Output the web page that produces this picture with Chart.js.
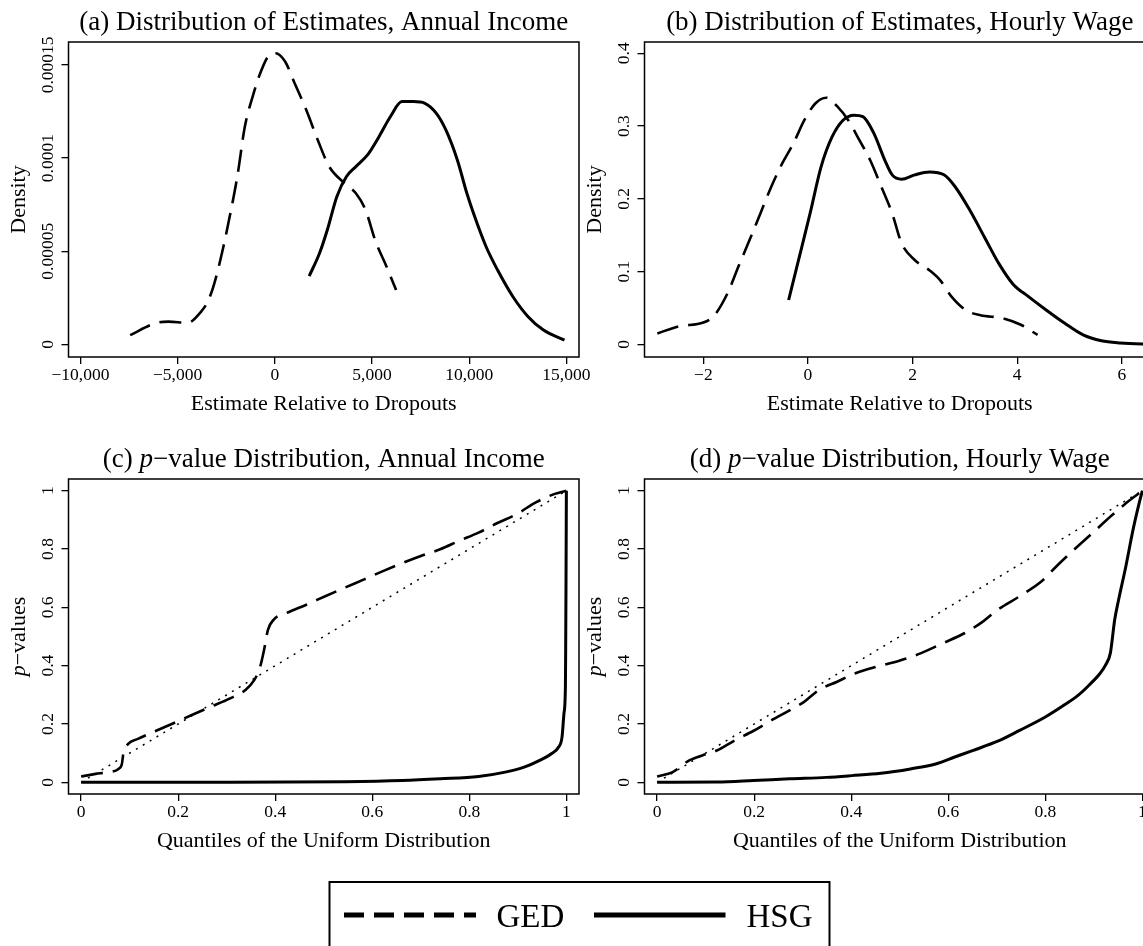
<!DOCTYPE html>
<html>
<head>
<meta charset="utf-8">
<script src="https://cdn.jsdelivr.net/npm/chart.js@4/dist/chart.umd.min.js"></script>
<style>
  body { margin: 0; background: #fff; }
  #wrap { position: relative; width: 1143px; height: 946px; overflow: hidden; background: #fff; }
  canvas { position: absolute; }
</style>
</head>
<body>
<div id="wrap">
  <canvas id="pa" width="612" height="420" style="left:0;top:0"></canvas>
  <canvas id="pb" width="612" height="420" style="left:576px;top:0"></canvas>
  <canvas id="pc" width="612" height="420" style="left:0;top:437px"></canvas>
  <canvas id="pd" width="612" height="420" style="left:576px;top:437px"></canvas>
  <canvas id="leg" width="1143" height="86" style="left:0;top:860px"></canvas>
</div>
<script>
// (a) density of estimates, annual income
var gedIncomeX = [-7440, -6070, -5470, -4490, -3800, -3410, -3110, -2720, -2320, -1930, -1540, -1140, -750, -350, 40, 530, 1020, 1620, 2210, 2800, 3580, 4170, 4670, 5160, 5750, 6240];
var gedIncomeY = [0.0000050, 0.0000116, 0.0000122, 0.0000116, 0.0000175, 0.0000238, 0.0000328, 0.0000489, 0.0000686, 0.0000900, 0.0001169, 0.0001330, 0.0001455, 0.0001545, 0.0001563, 0.0001518, 0.0001402, 0.0001258, 0.0001097, 0.0000954, 0.0000865, 0.0000811, 0.0000721, 0.0000560, 0.0000417, 0.0000292];
var hsgIncomeX = [1770, 2300, 2700, 3190, 3680, 4170, 4770, 5360, 5950, 6540, 7130, 7720, 8310, 8800, 9390, 9880, 10280, 10870, 11460, 12250, 13030, 13820, 14900];
var hsgIncomeY = [0.0000367, 0.0000489, 0.0000614, 0.0000793, 0.0000900, 0.0000954, 0.0001017, 0.0001115, 0.0001223, 0.0001303, 0.0001303, 0.0001294, 0.0001240, 0.0001151, 0.0000990, 0.0000811, 0.0000686, 0.0000524, 0.0000399, 0.0000256, 0.0000149, 0.0000077, 0.0000023];

// (b) density of estimates, hourly wage
var gedWageX = [-2.88, -2.46, -2.0, -1.79, -1.54, -1.33, -1.12, -0.91, -0.70, -0.49, -0.28, -0.07, 0.14, 0.35, 0.56, 0.77, 0.98, 1.19, 1.40, 1.61, 1.79, 2.04, 2.32, 2.53, 2.74, 3.02, 3.30, 3.72, 4.07, 4.39];
var gedWageY = [0.015, 0.025, 0.030, 0.040, 0.070, 0.107, 0.143, 0.180, 0.217, 0.249, 0.276, 0.308, 0.331, 0.339, 0.327, 0.308, 0.281, 0.253, 0.217, 0.180, 0.139, 0.116, 0.102, 0.088, 0.066, 0.047, 0.040, 0.036, 0.027, 0.013];
var hsgWageX = [-0.37, -0.18, 0.04, 0.25, 0.46, 0.67, 0.88, 1.05, 1.26, 1.47, 1.61, 1.79, 2.04, 2.32, 2.60, 2.81, 3.09, 3.37, 3.65, 3.93, 4.21, 4.56, 4.91, 5.26, 5.61, 5.97, 6.44, 6.63];
var hsgWageY = [0.061, 0.116, 0.180, 0.244, 0.285, 0.308, 0.315, 0.313, 0.290, 0.253, 0.233, 0.227, 0.233, 0.237, 0.233, 0.217, 0.185, 0.148, 0.111, 0.082, 0.066, 0.047, 0.029, 0.013, 0.005, 0.002, 0.0005, 0.0003];

// (c) p-values vs uniform quantiles, annual income
var uniformQ = [0, 1];
var uniformP = [0, 1];
var gedIncomeQ = [0, 0.03, 0.054, 0.077, 0.084, 0.087, 0.097, 0.117, 0.148, 0.188, 0.227, 0.267, 0.306, 0.338, 0.357, 0.369, 0.377, 0.385, 0.397, 0.424, 0.464, 0.503, 0.543, 0.582, 0.622, 0.661, 0.700, 0.740, 0.779, 0.819, 0.858, 0.898, 0.937, 0.976, 1.0];
var gedIncomeP = [0.020, 0.029, 0.035, 0.046, 0.063, 0.098, 0.132, 0.149, 0.172, 0.201, 0.230, 0.259, 0.287, 0.316, 0.351, 0.397, 0.454, 0.523, 0.558, 0.581, 0.609, 0.638, 0.667, 0.695, 0.724, 0.751, 0.776, 0.799, 0.828, 0.856, 0.889, 0.920, 0.960, 0.989, 1.0];
var hsgIncomeQ = [0, 0.306, 0.543, 0.661, 0.740, 0.819, 0.874, 0.913, 0.945, 0.969, 0.984, 0.991, 0.995, 0.998, 0.9985, 0.9992, 1.0];
var hsgIncomeP = [0, 0, 0.002, 0.006, 0.012, 0.020, 0.035, 0.052, 0.075, 0.098, 0.121, 0.155, 0.236, 0.328, 0.443, 0.672, 1.0];

// (d) p-values vs uniform quantiles, hourly wage
var gedWageQ = [0, 0.032, 0.047, 0.063, 0.093, 0.123, 0.160, 0.198, 0.236, 0.273, 0.303, 0.333, 0.371, 0.409, 0.454, 0.499, 0.544, 0.589, 0.634, 0.672, 0.702, 0.747, 0.793, 0.823, 0.860, 0.898, 0.936, 0.973, 1.0];
var gedWageP = [0.020, 0.035, 0.052, 0.072, 0.092, 0.109, 0.144, 0.176, 0.213, 0.247, 0.276, 0.316, 0.345, 0.374, 0.397, 0.417, 0.443, 0.477, 0.512, 0.552, 0.592, 0.638, 0.690, 0.741, 0.799, 0.856, 0.914, 0.966, 1.0];
var hsgWageQ = [0, 0.123, 0.198, 0.273, 0.349, 0.401, 0.461, 0.522, 0.574, 0.612, 0.650, 0.702, 0.747, 0.800, 0.838, 0.868, 0.890, 0.913, 0.924, 0.934, 0.943, 0.951, 0.966, 0.981, 0.992, 1.0];
var hsgWageP = [0, 0.001, 0.006, 0.012, 0.017, 0.023, 0.031, 0.046, 0.063, 0.086, 0.109, 0.141, 0.178, 0.224, 0.264, 0.299, 0.333, 0.374, 0.402, 0.443, 0.558, 0.626, 0.741, 0.868, 0.948, 1.0];

// ticks
var incomeTicks = [-10000, -5000, 0, 5000, 10000, 15000];
var incomeTickLabels = ["\u221210,000", "\u22125,000", "0", "5,000", "10,000", "15,000"];
var wageTicks = [-2, 0, 2, 4, 6];
var wageTickLabels = ["\u22122", "0", "2", "4", "6"];
var densIncomeTicks = [0, 0.00005, 0.0001, 0.00015];
var densIncomeLabels = ["0", "0.00005", "0.0001", "0.00015"];
var densWageTicks = [0, 0.1, 0.2, 0.3, 0.4];
var densWageLabels = ["0", "0.1", "0.2", "0.3", "0.4"];
var unitTicks = [0, 0.2, 0.4, 0.6, 0.8, 1];
var unitTickLabels = ["0", "0.2", "0.4", "0.6", "0.8", "1"];

var SERIF = '"Liberation Serif", "Times New Roman", serif';

function pts(xs, ys) {
  return xs.map(function (x, i) { return { x: x, y: ys[i] }; });
}

// texts with italic bits: [text, italic]
function drawParts(ctx, parts, cx, y, size) {
  var total = 0;
  parts.forEach(function (p) {
    ctx.font = (p[1] ? 'italic ' : '') + size + 'px ' + SERIF;
    total += ctx.measureText(p[0]).width;
  });
  var x = cx - total / 2;
  ctx.textAlign = 'left';
  ctx.textBaseline = 'alphabetic';
  parts.forEach(function (p) {
    ctx.font = (p[1] ? 'italic ' : '') + size + 'px ' + SERIF;
    ctx.fillText(p[0], x, y);
    x += ctx.measureText(p[0]).width;
  });
}

// R-like frame, rotated y labels and titles
var panelText = {};
var rFrame = {
  id: 'rFrame',
  afterDraw: function (chart) {
    var t = panelText[chart.canvas.id];
    var ctx = chart.ctx, a = chart.chartArea;
    ctx.save();
    ctx.strokeStyle = '#000';
    ctx.lineWidth = 1.5;
    ctx.strokeRect(a.left, a.top, a.right - a.left, a.bottom - a.top);
    ctx.fillStyle = '#000';

    var ys = chart.scales.y;
    ctx.font = '17.5px ' + SERIF;
    ctx.textAlign = 'center';
    ctx.textBaseline = 'alphabetic';
    ys.ticks.forEach(function (tk, i) {
      ctx.save();
      ctx.translate(a.left - 15.5, ys.getPixelForValue(tk.value));
      ctx.rotate(-Math.PI / 2);
      ctx.fillText(t.yLabels[i], 0, 0);
      ctx.restore();
    });

    drawParts(ctx, t.title, a.left + 255.25, 30, 27);
    drawParts(ctx, t.xTitle, (a.left + a.right) / 2, a.bottom + 53, 22);
    ctx.save();
    ctx.translate(a.left - 44, (a.top + a.bottom) / 2);
    ctx.rotate(-Math.PI / 2);
    drawParts(ctx, t.yTitle, 0, 0, 22);
    ctx.restore();
    ctx.restore();
  }
};

function makePanel(id, o) {
  panelText[id] = o.text;
  return new Chart(document.getElementById(id), {
    type: 'line',
    data: { datasets: o.datasets },
    options: {
      responsive: false,
      animation: false,
      devicePixelRatio: 1,
      layout: { padding: { top: 42, right: 33, left: 0, bottom: 0 } },
      plugins: { legend: { display: false }, tooltip: { enabled: false }, title: { display: false } },
      elements: { point: { radius: 0 }, line: { cubicInterpolationMode: 'monotone', fill: false } },
      scales: {
        x: {
          type: 'linear', min: o.xMin, max: o.xMax,
          afterBuildTicks: function (s) { s.ticks = o.xTicks.map(function (v) { return { value: v }; }); },
          afterFit: function (s) { s.height = 63; s.paddingLeft = 0; s.paddingRight = 0; },
          grid: { drawOnChartArea: false, drawTicks: true, tickLength: 7, color: '#000', lineWidth: 1.3 },
          border: { display: false },
          ticks: {
            color: '#000', padding: 1, maxRotation: 0, autoSkip: false,
            font: { family: SERIF, size: 17.5 },
            callback: function (v, i) { return o.xLabels[i]; }
          }
        },
        y: {
          type: 'linear', min: o.yMin, max: o.yMax,
          afterBuildTicks: function (s) { s.ticks = o.yTicks.map(function (v) { return { value: v }; }); },
          afterFit: function (s) { s.width = 68.5; s.paddingTop = 0; s.paddingBottom = 0; },
          grid: { drawOnChartArea: false, drawTicks: true, tickLength: 7, color: '#000', lineWidth: 1.3 },
          border: { display: false },
          ticks: { display: false }
        }
      }
    },
    plugins: [rFrame]
  });
}

function gedSet(data) {
  return { data: data, borderColor: '#000', borderWidth: 2.6, borderDash: [22, 10] };
}
function hsgSet(data) {
  return { data: data, borderColor: '#000', borderWidth: 3 };
}
function diagSet(data) {
  return { data: data, borderColor: '#000', borderWidth: 1.5, borderDash: [2, 6], cubicInterpolationMode: 'default', tension: 0 };
}

var pvTitle = [["p", true], ["\u2212values", false]];
var quantTitle = [["Quantiles of the Uniform Distribution", false]];

makePanel('pa', {
  datasets: [gedSet(pts(gedIncomeX, gedIncomeY)), hsgSet(pts(hsgIncomeX, hsgIncomeY))],
  xMin: -10612, xMax: 15648, xTicks: incomeTicks, xLabels: incomeTickLabels,
  yMin: -0.00000676, yMax: 0.0001623, yTicks: densIncomeTicks,
  text: {
    title: [["(a) Distribution of Estimates, Annual Income", false]],
    xTitle: [["Estimate Relative to Dropouts", false]],
    yTitle: [["Density", false]],
    yLabels: densIncomeLabels
  }
});

makePanel('pb', {
  datasets: [gedSet(pts(gedWageX, gedWageY)), hsgSet(pts(hsgWageX, hsgWageY))],
  xMin: -3.126, xMax: 6.635, xTicks: wageTicks, xLabels: wageTickLabels,
  yMin: -0.0173, yMax: 0.4155, yTicks: densWageTicks,
  text: {
    title: [["(b) Distribution of Estimates, Hourly Wage", false]],
    xTitle: [["Estimate Relative to Dropouts", false]],
    yTitle: [["Density", false]],
    yLabels: densWageLabels
  }
});

makePanel('pc', {
  datasets: [diagSet(pts(uniformQ, uniformP)), gedSet(pts(gedIncomeQ, gedIncomeP)), hsgSet(pts(hsgIncomeQ, hsgIncomeP))],
  xMin: -0.026, xMax: 1.026, xTicks: unitTicks, xLabels: unitTickLabels,
  yMin: -0.04, yMax: 1.04, yTicks: unitTicks,
  text: {
    title: [["(c) ", false], ["p", true], ["\u2212value Distribution, Annual Income", false]],
    xTitle: quantTitle, yTitle: pvTitle, yLabels: unitTickLabels
  }
});

makePanel('pd', {
  datasets: [diagSet(pts(uniformQ, uniformP)), gedSet(pts(gedWageQ, gedWageP)), hsgSet(pts(hsgWageQ, hsgWageP))],
  xMin: -0.026, xMax: 1.026, xTicks: unitTicks, xLabels: unitTickLabels,
  yMin: -0.04, yMax: 1.04, yTicks: unitTicks,
  text: {
    title: [["(d) ", false], ["p", true], ["\u2212value Distribution, Hourly Wage", false]],
    xTitle: quantTitle, yTitle: pvTitle, yLabels: unitTickLabels
  }
});

// legend box at the bottom
var lg = document.getElementById('leg').getContext('2d');
lg.strokeStyle = '#000';
lg.lineWidth = 2;
lg.strokeRect(329.5, 22, 500, 70);
lg.lineWidth = 5;
lg.lineCap = 'butt';
lg.setLineDash([20, 10]);
lg.beginPath(); lg.moveTo(344, 55); lg.lineTo(476, 55); lg.stroke();
lg.setLineDash([]);
lg.beginPath(); lg.moveTo(594, 55); lg.lineTo(725.5, 55); lg.stroke();
lg.fillStyle = '#000';
lg.font = '33px ' + SERIF;
lg.textBaseline = 'alphabetic';
lg.fillText('GED', 496.5, 66.5);
lg.fillText('HSG', 746.5, 66.5);
</script>
</body>
</html>
